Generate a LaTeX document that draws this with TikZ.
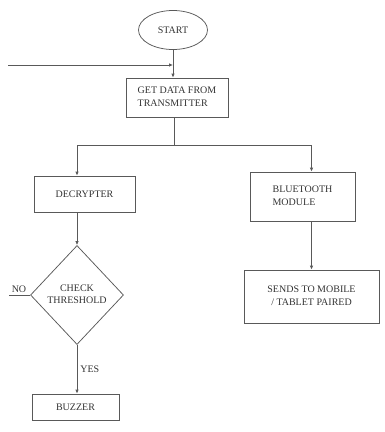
\documentclass[tikz,border=0pt]{standalone}
\usepackage{fontspec}
\setmainfont{Liberation Serif}
\usetikzlibrary{shapes.geometric,arrows.meta}
\begin{document}
\begin{tikzpicture}[x=1pt,y=-1pt,
  line/.style={draw=black!65, line width=0.75pt},
  arr/.style={line, -{Latex[length=4pt,width=3.5pt]}},
  box/.style={draw=black!65, line width=0.75pt, rectangle, inner sep=0pt, font=\fontsize{10}{12.5}\selectfont, text=black!80},
  lbl/.style={font=\fontsize{10}{12.5}\selectfont, text=black!80, inner sep=0pt}]
\useasboundingbox (0,0) rectangle (384,432);
\node[box, ellipse, minimum width=69pt, minimum height=39pt] (start) at (173,30) {START};
\node[box, minimum width=102pt, minimum height=39pt] (get) at (177,97.5) {\begin{tabular}{@{}l@{}}GET DATA FROM\\TRANSMITTER\end{tabular}};
\node[box, minimum width=101pt, minimum height=36pt] (dec) at (84.5,194) {DECRYPTER};
\node[box, minimum width=105pt, minimum height=49pt] (bt) at (302.5,196.5) {\begin{tabular}{@{}l@{}}BLUETOOTH\\MODULE\end{tabular}};
\node[box, diamond, minimum width=93pt, minimum height=99pt, aspect=0.94] (chk) at (77,295) {\begin{tabular}{@{}c@{}}CHECK\\THRESHOLD\end{tabular}};
\node[box, minimum width=87pt, minimum height=26pt] (buz) at (75.5,407) {BUZZER};
\node[box, minimum width=135pt, minimum height=53pt] (send) at (311.5,296.5) {\begin{tabular}{@{}c@{}}SENDS TO MOBILE\\/ TABLET PAIRED\end{tabular}};
\coordinate (inl) at (8,65);
\coordinate (nol) at (9,295);
\coordinate (split) at (174,145);
\draw[arr] (start.south) -- (start.south |- get.north);
\draw[arr] (inl) -- (start.south |- inl);
\draw[line] (get.south -| split) -- (split);
\draw[arr] (split) -| (dec.north -| chk.north);
\draw[arr] (split) -| (bt.north -| send.north);
\draw[arr] (dec.south -| chk.north) -- (chk.north);
\draw[arr] (bt.south -| send.north) -- (send.north);
\draw[arr] (chk.south) -- node[lbl, right=3pt, pos=0.5] {YES} (chk.south |- buz.north);
\draw[line] (chk.west) -- (nol);
\node[lbl, anchor=south] (no) at (19,293) {NO};
\end{tikzpicture}
\end{document}
